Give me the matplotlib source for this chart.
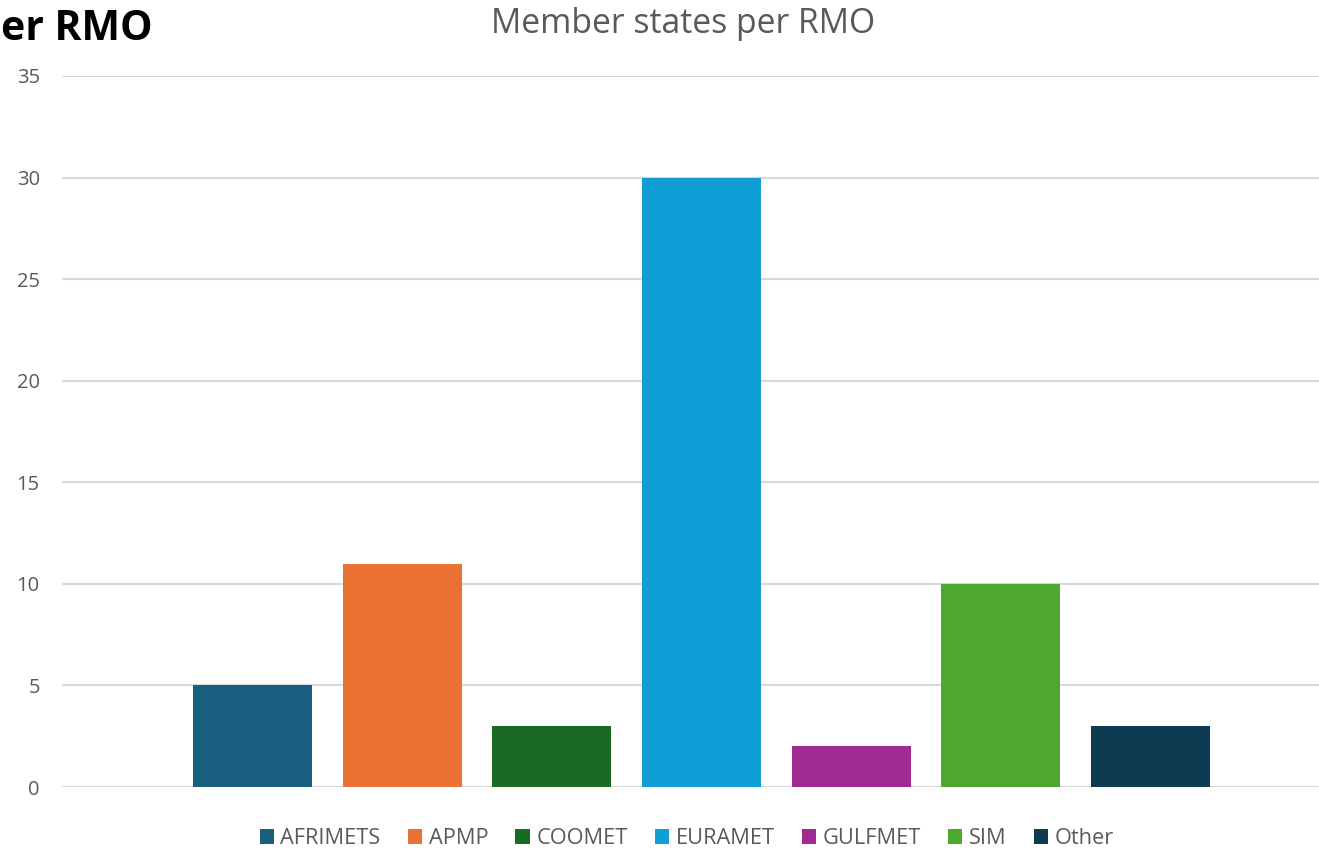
import matplotlib.pyplot as plt

plt.rcParams['font.family'] = ['Open Sans', 'DejaVu Sans']

# data
rmos = ['AFRIMETS', 'APMP', 'COOMET', 'EURAMET', 'GULFMET', 'SIM', 'Other']
members = [5, 11, 3, 30, 2, 10, 3]
colors = ['#196080', '#E97132', '#196B24', '#0F9ED5', '#A02B93', '#4EA72E', '#0E3A52']
yticks = [0, 5, 10, 15, 20, 25, 30, 35]

fig = plt.figure(figsize=(13.19, 8.49), dpi=100)
ax = fig.add_axes([0.047, 0.073, 0.953, 0.8375])

for i, (name, val, col) in enumerate(zip(rmos, members, colors)):
    ax.bar(i, val, width=0.795, color=col, label=name, zorder=3)

ax.set_xlim(-1.273, 7.127)
ax.set_ylim(0, 35)
ax.set_yticks(yticks)
ax.set_xticks([])
ax.grid(axis='y', color='#D9D9D9', linewidth=1.5, zorder=0)
ax.tick_params(axis='y', length=0, labelsize=14.5, labelcolor='#595959', pad=16)
for s in ax.spines.values():
    s.set_visible(False)

fig.text(0.518, 0.961, 'Member states per RMO', fontsize=24.3, color='#595959',
         ha='center', va='baseline')
fig.text(0.0005, 0.953, 'er RMO', fontsize=29.5, fontweight='bold', color='black',
         ha='left', va='baseline')

ax.legend(loc='upper center', bbox_to_anchor=(0.497, -0.03), ncol=7, frameon=False,
          fontsize=15.7, labelcolor='#595959', handlelength=0.65, handleheight=0.65,
          handletextpad=0.3, columnspacing=1.25)

fig.savefig('out.png', dpi=100)
